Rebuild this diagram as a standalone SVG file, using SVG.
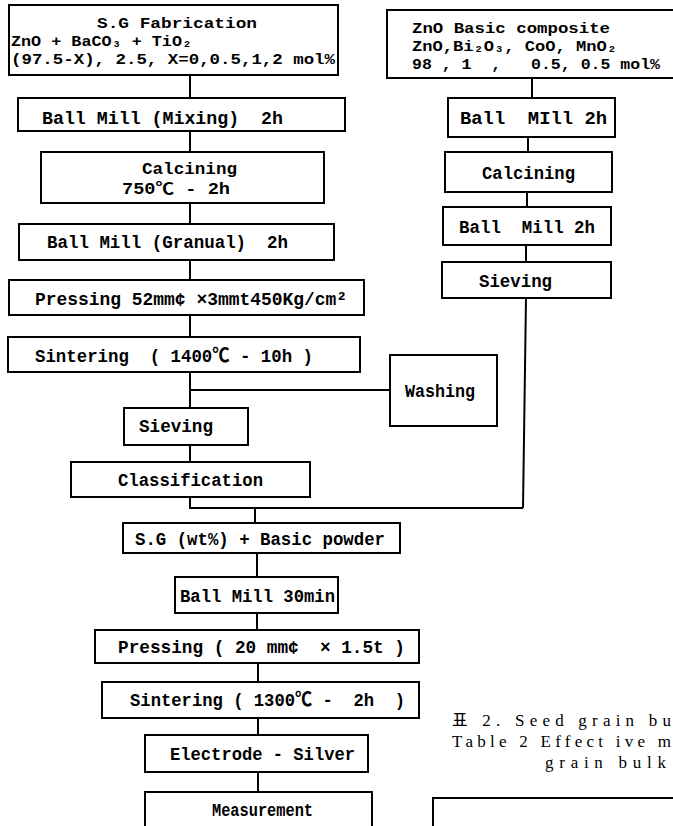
<svg xmlns="http://www.w3.org/2000/svg" width="673" height="826" viewBox="0 0 673 826">
<style>
.box{fill:#fff;stroke:#000;stroke-width:2}
.c{fill:none;stroke:#000;stroke-width:2}
.t{font-family:"Liberation Mono","DejaVu Sans Mono","Noto Sans CJK KR",monospace;font-weight:bold;font-size:19px;fill:#000;white-space:pre}
.s{font-size:15px}
.m{font-size:16px}
.cap{font-family:"Liberation Serif","Noto Sans CJK KR",serif;font-size:17px;fill:#000;white-space:pre}
</style>
<rect width="673" height="826" fill="#fff"/>
<g id="connectors">
<path class="c" d="M190,75V98M190,131V152M190,203V224M190,260V280M190,315V337M190,372V408M190,390H390M190,445V462M190,497V508H523M255,508V523M257,553V577M257,613V630M258,663V682M258,718V735M258,772V792"/>
<path class="c" d="M532,78V98M528,137V152M527,192V207M526,245V262M526,298L523,508"/>
<path class="c" d="M433,826V798H680"/>
</g>
<g id="sg-fabrication">
<rect class="box" x="9" y="5" width="329" height="70"/>
<text class="t s" x="97" y="28" textLength="160" lengthAdjust="spacingAndGlyphs">S.G Fabrication</text>
<text class="t s" x="11" y="46" textLength="181" lengthAdjust="spacingAndGlyphs">ZnO + BaCO₃ + TiO₂</text>
<text class="t s" x="11" y="64" textLength="324" lengthAdjust="spacingAndGlyphs">(97.5-X), 2.5, X=0,0.5,1,2 mol%</text>
</g>
<g id="ball-mill-mixing">
<rect class="box" x="18" y="98" width="327" height="33"/>
<text class="t" x="42" y="124" textLength="241" lengthAdjust="spacingAndGlyphs">Ball Mill (Mixing)  2h</text>
</g>
<g id="calcining-left">
<rect class="box" x="41" y="152" width="283" height="51"/>
<text class="t m" x="142" y="174" textLength="95" lengthAdjust="spacingAndGlyphs">Calcining</text>
<text class="t m" x="122" y="194" textLength="108" lengthAdjust="spacingAndGlyphs">750℃ - 2h</text>
</g>
<g id="ball-mill-granual">
<rect class="box" x="19" y="224" width="315" height="36"/>
<text class="t" x="47" y="248" textLength="241" lengthAdjust="spacingAndGlyphs">Ball Mill (Granual)  2h</text>
</g>
<g id="pressing-52">
<rect class="box" x="9" y="280" width="355" height="35"/>
<text class="t" x="35" y="305" textLength="312" lengthAdjust="spacingAndGlyphs">Pressing 52mm¢ ×3mmt450Kg/cm²</text>
</g>
<g id="sintering-1400">
<rect class="box" x="8" y="337" width="352" height="35"/>
<text class="t" x="35" y="362" textLength="278" lengthAdjust="spacingAndGlyphs">Sintering  ( 1400℃ - 10h )</text>
</g>
<g id="washing">
<rect class="box" x="390" y="355" width="107" height="71"/>
<text class="t" x="405" y="397" textLength="70" lengthAdjust="spacingAndGlyphs">Washing</text>
</g>
<g id="sieving-left">
<rect class="box" x="124" y="408" width="124" height="37"/>
<text class="t" x="139" y="432" textLength="74" lengthAdjust="spacingAndGlyphs">Sieving</text>
</g>
<g id="classification">
<rect class="box" x="71" y="462" width="239" height="35"/>
<text class="t" x="118" y="486" textLength="145" lengthAdjust="spacingAndGlyphs">Classification</text>
</g>
<g id="zno-basic">
<rect class="box" x="387" y="10" width="300" height="68"/>
<text class="t s" x="412" y="33" textLength="198" lengthAdjust="spacingAndGlyphs">ZnO Basic composite</text>
<text class="t s" x="412" y="51" textLength="205" lengthAdjust="spacingAndGlyphs">ZnO,Bi₂O₃, CoO, MnO₂</text>
<text class="t s" x="412" y="69" textLength="248" lengthAdjust="spacingAndGlyphs">98 , 1  ,   0.5, 0.5 mol%</text>
</g>
<g id="ball-mill-right-1">
<rect class="box" x="448" y="98" width="167" height="39"/>
<text class="t" x="460" y="124" textLength="147" lengthAdjust="spacingAndGlyphs">Ball  MIll 2h</text>
</g>
<g id="calcining-right">
<rect class="box" x="445" y="152" width="167" height="40"/>
<text class="t" x="482" y="179" textLength="93" lengthAdjust="spacingAndGlyphs">Calcining</text>
</g>
<g id="ball-mill-right-2">
<rect class="box" x="443" y="207" width="168" height="38"/>
<text class="t" x="459" y="233" textLength="136" lengthAdjust="spacingAndGlyphs">Ball  Mill 2h</text>
</g>
<g id="sieving-right">
<rect class="box" x="442" y="262" width="169" height="36"/>
<text class="t" x="479" y="287" textLength="73" lengthAdjust="spacingAndGlyphs">Sieving</text>
</g>
<g id="sg-basic-powder">
<rect class="box" x="123" y="523" width="277" height="30"/>
<text class="t" x="135" y="545" textLength="250" lengthAdjust="spacingAndGlyphs">S.G (wt%) + Basic powder</text>
</g>
<g id="ball-mill-30">
<rect class="box" x="175" y="577" width="163" height="36"/>
<text class="t" x="180" y="602" textLength="155" lengthAdjust="spacingAndGlyphs">Ball Mill 30min</text>
</g>
<g id="pressing-20">
<rect class="box" x="95" y="630" width="324" height="33"/>
<text class="t" x="118" y="653" textLength="287" lengthAdjust="spacingAndGlyphs">Pressing ( 20 mm¢  × 1.5t )</text>
</g>
<g id="sintering-1300">
<rect class="box" x="102" y="682" width="317" height="36"/>
<text class="t" x="130" y="706" textLength="275" lengthAdjust="spacingAndGlyphs">Sintering ( 1300℃ -  2h  )</text>
</g>
<g id="electrode">
<rect class="box" x="145" y="735" width="223" height="37"/>
<text class="t" x="170" y="760" textLength="185" lengthAdjust="spacingAndGlyphs">Electrode - Silver</text>
</g>
<g id="measurement">
<rect class="box" x="145" y="792" width="227" height="40"/>
<text class="t" x="212" y="816" textLength="101" lengthAdjust="spacingAndGlyphs">Measurement</text>
</g>
<g id="caption">
<text class="cap" x="452" y="726" textLength="219" lengthAdjust="spacing">표 2. Seed grain bu</text>
<text class="cap" x="452" y="747" textLength="219" lengthAdjust="spacing">Table 2 Effect ive m</text>
<text class="cap" x="545" y="768" textLength="121" lengthAdjust="spacing">grain bulk</text>
</g>
</svg>
